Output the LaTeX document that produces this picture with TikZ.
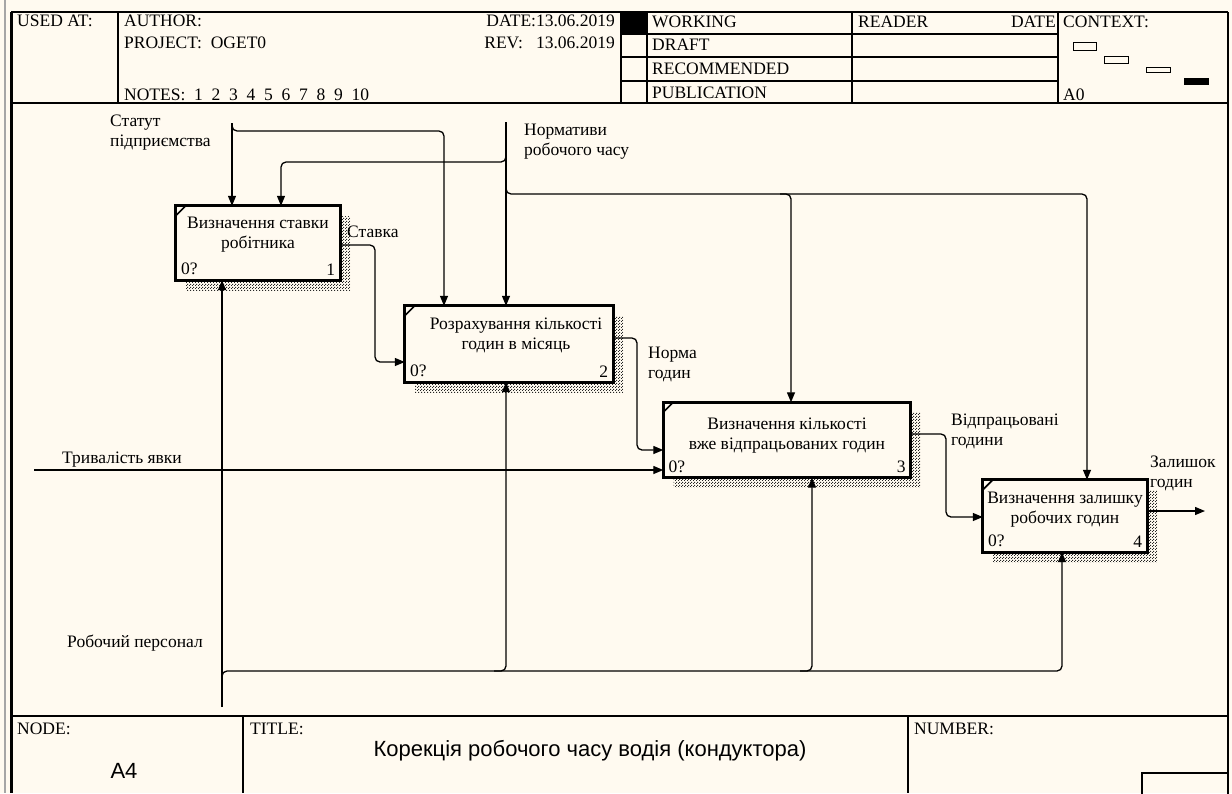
\documentclass[tikz,border=0pt]{standalone}
\usepackage{fontspec}
\setmainfont{Liberation Serif}
\setsansfont{Liberation Sans}
\usetikzlibrary{arrows.meta,patterns,shadows}
\definecolor{paper}{RGB}{255,250,240}
\pgfdeclarepatternformonly{shadechk}{\pgfqpoint{0pt}{0pt}}{\pgfqpoint{3pt}{3pt}}{\pgfqpoint{3pt}{3pt}}{%
  \pgfpathrectangle{\pgfqpoint{0pt}{0pt}}{\pgfqpoint{1.3pt}{1.3pt}}%
  \pgfpathrectangle{\pgfqpoint{1.5pt}{1.5pt}}{\pgfqpoint{1.3pt}{1.3pt}}%
  \pgfusepath{fill}}

\begin{document}
\begin{tikzpicture}[x=1pt,y=-1pt,
    every node/.style={inner sep=0pt,font=\fontsize{17.5}{20}\selectfont},
    rule/.style={line width=1.4pt},
    func/.style={fill=paper,
      general shadow={shadow xshift=10pt,shadow yshift=-10pt,pattern=shadechk,pattern color=black!85}},
    boxline/.style={line width=2.8pt},
    flow/.style={line width=1.3pt,rounded corners=5pt,-{Triangle[length=10pt,width=8pt]}},
    lbl/.style={align=left,anchor=north west},
    ftxt/.style={align=center,anchor=north},
    sanstxt/.style={font=\sffamily\fontsize{22}{26}\selectfont}]
    \useasboundingbox (0,0) rectangle (1232,793);
    \fill[paper] (0,0) rectangle (1232,793);
    \draw[gray!70,line width=2pt] (5,0) -- (5,793);

    % frame and header
    \draw[line width=2.5pt] (11.5,12) -- (11.5,793);
    \draw[line width=2pt] (1228,12) -- (1228,793);
    \draw[rule] (11,12) -- (1228,12);
    \draw[rule] (11,103) -- (1228,103);
    \draw[rule] (11,716) -- (1228,716);
    \draw[rule] (118,12) -- (118,103);
    \draw[rule] (621,12) -- (621,103);
    \draw[rule] (647,12) -- (647,103);
    \draw[rule] (852,12) -- (852,103);
    \draw[rule] (1058,12) -- (1058,103);
    \draw[rule] (621,34) -- (1058,34);
    \draw[rule] (621,57) -- (1058,57);
    \draw[rule] (621,81) -- (1058,81);
    \fill (621,12) rectangle (647,34);
    \draw[line width=1pt] (1073,42) rectangle (1096,50);
    \draw[line width=1pt] (1104,56) rectangle (1128,63);
    \draw[line width=1pt] (1146,67) rectangle (1170,72);
    \fill (1184,78) rectangle (1209,85);
    \draw[rule] (243,716) -- (243,793);
    \draw[rule] (908,716) -- (908,793);
    \draw[rule] (1142,773) rectangle (1228,795);

    \node[anchor=west] (usedat) at (17,21) {USED AT:};
    \node[anchor=west] (author) at (124,21) {AUTHOR:};
    \node[anchor=west] (project) at (124,43) {PROJECT:\ \ OGET0};
    \node[anchor=west] (notes) at (124,95) {NOTES:\ \ 1\ \ 2\ \ 3\ \ 4\ \ 5\ \ 6\ \ 7\ \ 8\ \ 9\ \ 10};
    \node[anchor=east] (date) at (615,21) {DATE:13.06.2019};
    \node[anchor=east] (rev) at (615,43) {REV:\ \ \ 13.06.2019};
    \node[anchor=west] (working) at (652,22) {WORKING};
    \node[anchor=west] (draft) at (652,45) {DRAFT};
    \node[anchor=west] (recom) at (652,69) {RECOMMENDED};
    \node[anchor=west] (publ) at (652,93) {PUBLICATION};
    \node[anchor=west] (reader) at (858,22) {READER};
    \node[anchor=east] (rdate) at (1056,22) {DATE};
    \node[anchor=west] (context) at (1063,22) {CONTEXT:};
    \node[anchor=west] (ctxnode) at (1063,95) {A0};

    % title block
    \node[anchor=west] (nodelbl) at (17,729) {NODE:};
    \node[sanstxt] (nodenum) at (124,771) {A4};
    \node[anchor=west] (titlelbl) at (250,729) {TITLE:};
    \node[sanstxt] (title) at (590,751) {Корекція робочого часу водія (кондуктора)};
    \node[anchor=west] (numlbl) at (914,729) {NUMBER:};

    % functions
    \node[func,minimum width=164pt,minimum height=74pt] (b1) at (258,243) {};
    \node[func,minimum width=208pt,minimum height=76pt] (b2) at (509,344) {};
    \node[func,minimum width=247pt,minimum height=75pt] (b3) at (787,440) {};
    \node[func,minimum width=164pt,minimum height=72pt] (b4) at (1065,516) {};
    \draw[boxline] (b1.north west) rectangle (b1.south east);
    \draw[boxline] (b2.north west) rectangle (b2.south east);
    \draw[boxline] (b3.north west) rectangle (b3.south east);
    \draw[boxline] (b4.north west) rectangle (b4.south east);
    \node[ftxt] (b1txt) at ([yshift=-11pt]b1.north) {Визначення ставки\\робітника};
    \node[ftxt] (b2txt) at ([xshift=7pt,yshift=-12pt]b2.north) {Розрахування кількості\\годин в місяць};
    \node[ftxt] (b3txt) at ([yshift=-15pt]b3.north) {Визначення кількості\\вже відпрацьованих годин};
    \node[ftxt] (b4txt) at ([yshift=-12pt]b4.north) {Визначення залишку\\робочих годин};
    \node[anchor=south west] (b1id) at ([shift={(5pt,5pt)}]b1.south west) {0?};
    \node[anchor=south east] (b1no) at ([shift={(-5pt,5pt)}]b1.south east) {1};
    \node[anchor=south west] (b2id) at ([shift={(5pt,5pt)}]b2.south west) {0?};
    \node[anchor=south east] (b2no) at ([shift={(-5pt,5pt)}]b2.south east) {2};
    \node[anchor=south west] (b3id) at ([shift={(5pt,5pt)}]b3.south west) {0?};
    \node[anchor=south east] (b3no) at ([shift={(-5pt,5pt)}]b3.south east) {3};
    \node[anchor=south west] (b4id) at ([shift={(5pt,5pt)}]b4.south west) {0?};
    \node[anchor=south east] (b4no) at ([shift={(-5pt,5pt)}]b4.south east) {4};
    \draw[line width=1.6pt] ([yshift=-10pt]b1.north west) -- ([xshift=10pt]b1.north west);
    \draw[line width=1.6pt] ([yshift=-10pt]b2.north west) -- ([xshift=10pt]b2.north west);
    \draw[line width=1.6pt] ([yshift=-10pt]b3.north west) -- ([xshift=10pt]b3.north west);
    \draw[line width=1.6pt] ([yshift=-10pt]b4.north west) -- ([xshift=10pt]b4.north west);

    % arrow labels
    \node[lbl] (statutlbl) at (110,115) {Статут\\підприємства};
    \node[lbl] (normlbl) at (524,124) {Нормативи\\робочого часу};
    \node[anchor=west] (ratelbl) at (347,232) {Ставка};
    \node[lbl] (hourslbl) at (648,347) {Норма\\годин};
    \node[anchor=west] (durlbl) at (62,460) {Тривалість явки};
    \node[lbl] (donelbl) at (951,414) {Відпрацьовані\\години};
    \node[lbl] (restlbl) at (1150,456) {Залишок\\годин};
    \node[anchor=west] (staflbl) at (67,643) {Робочий персонал};

    % arrows
    \coordinate (statut) at (232,123);
    \coordinate (norm) at (506,122);
    \coordinate (dur) at (34,470);
    \coordinate (staff) at (222,707);
    \coordinate (rest) at (1205,511);
    \draw[flow] (statut) -- (statut |- b1.north);
    \draw[flow] (statut) -- ++(0,8) -| (444,0 |- b2.north);
    \draw[flow] (norm) -- (norm |- b2.north);
    \draw[flow] (norm) -- ++(0,40) -| (281,0 |- b1.north);
    \draw[flow] (norm) -- ++(0,72) -| (1087,0 |- b4.north);
    \draw[flow] (780,194) -| (791,0 |- b3.north);
    \draw[flow] (b1.east |- 0,245) -- (375,245) |- (b2.west |- 0,362);
    \draw[flow] (b2.east |- 0,338) -- (637,338) |- (b3.west |- 0,450);
    \draw[flow] (dur) -- (b3.west |- dur);
    \draw[flow] (b3.east |- 0,434) -- (946,434) |- (b4.west |- 0,517);
    \draw[flow] (b4.east |- rest) -- (rest);
    \draw[flow] (staff) -- (staff |- b1.south);
    \draw[flow] (222,678) -- (222,671) -| (1062,0 |- b4.south);
    \draw[flow] (494,671) -| (506,0 |- b2.south);
    \draw[flow] (800,671) -| (812,0 |- b3.south);
\end{tikzpicture}
\end{document}
